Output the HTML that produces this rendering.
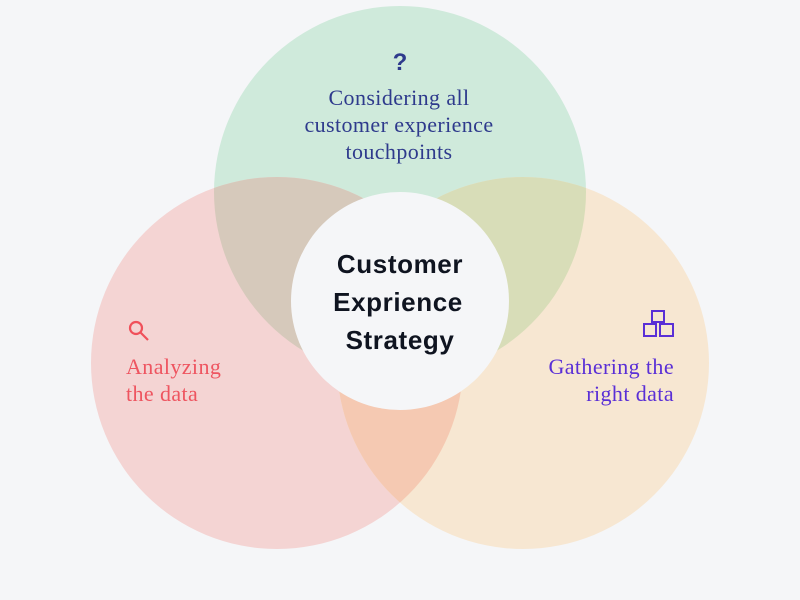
<!DOCTYPE html>
<html><head><style>
body{margin:0;background:#f5f6f8;width:800px;height:600px;overflow:hidden}
svg{display:block}
</style></head><body>
<svg width="800" height="600" xmlns="http://www.w3.org/2000/svg">
<defs>
<clipPath id="cg"><circle cx="400" cy="192" r="186"/></clipPath>
<clipPath id="cr"><circle cx="277" cy="363" r="186"/></clipPath>
</defs>
<rect width="800" height="600" fill="#f5f6f8"/>
<circle cx="400" cy="192" r="186" fill="#cfeadb"/>
<circle cx="277" cy="363" r="186" fill="#f4d4d3"/>
<circle cx="523" cy="363" r="186" fill="#f7e7d2"/>
<circle cx="277" cy="363" r="186" fill="#d6c9bb" clip-path="url(#cg)"/>
<circle cx="523" cy="363" r="186" fill="#d8ddb8" clip-path="url(#cg)"/>
<circle cx="523" cy="363" r="186" fill="#f5c9b2" clip-path="url(#cr)"/>
<circle cx="400" cy="301" r="109" fill="#f5f6f8"/>
<g font-family="Liberation Sans, sans-serif" font-weight="bold" font-size="26" fill="#0f1420" text-anchor="middle" letter-spacing="0.6">
<text x="400" y="273">Customer</text>
<text x="398" y="311">Exprience</text>
<text x="400" y="349">Strategy</text>
</g>
<text x="400" y="70" font-family="Liberation Sans, sans-serif" font-weight="bold" font-size="24" fill="#2e3a8c" text-anchor="middle">?</text>
<g font-family="Liberation Serif, serif" font-size="22" fill="#2e3a8c" text-anchor="middle" letter-spacing="0.4">
<text x="399" y="105">Considering all</text>
<text x="399" y="132">customer experience</text>
<text x="399" y="159">touchpoints</text>
</g>
<g fill="none" stroke="#f0505a" stroke-width="2.2">
<circle cx="136" cy="328" r="6"/>
<line x1="140.5" y1="332.5" x2="148" y2="340"/>
</g>
<g font-family="Liberation Serif, serif" font-size="22" fill="#ee5560" letter-spacing="0.4">
<text x="126" y="374">Analyzing</text>
<text x="126" y="401">the data</text>
</g>
<g fill="none" stroke="#5a2fd6" stroke-width="2">
<rect x="652" y="311" width="12" height="11"/>
<rect x="644" y="324" width="12" height="12"/>
<rect x="660" y="324" width="13" height="12"/>
</g>
<g font-family="Liberation Serif, serif" font-size="22" fill="#5a2fd6" text-anchor="end" letter-spacing="0.4">
<text x="674" y="374">Gathering the</text>
<text x="674" y="401">right data</text>
</g>
</svg>
</body></html>
